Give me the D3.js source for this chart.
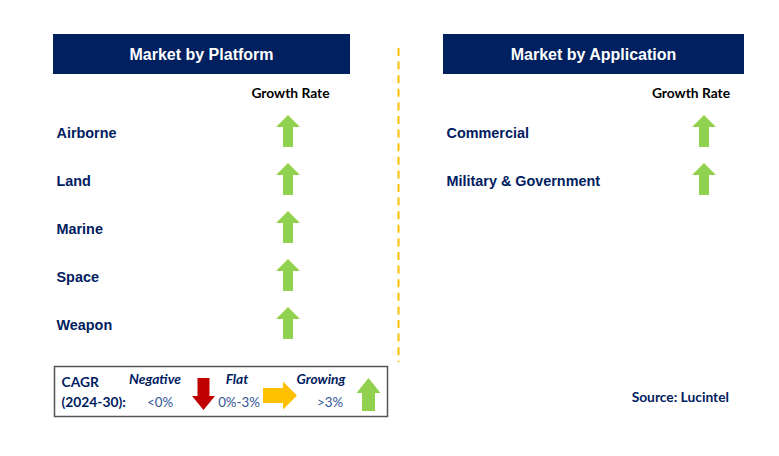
<!DOCTYPE html>
<html><head><meta charset="utf-8">
<script src="https://cdn.jsdelivr.net/npm/d3@7/dist/d3.min.js"></script>
<style>body{margin:0;background:#fff}svg{display:block}</style>
</head><body><svg id="c" width="779" height="456"></svg>
<script>
const platforms = ["Airborne", "Land", "Marine", "Space", "Weapon"];
const platformTrend = ["Growing", "Growing", "Growing", "Growing", "Growing"];
const applications = ["Commercial", "Military & Government"];
const applicationTrend = ["Growing", "Growing"];
const panelTitles = ["Market by Platform", "Market by Application"];
const legendNames = ["Negative", "Flat", "Growing"];
const legendRanges = ["<0%", "0%-3%", ">3%"];
const legendDir = ["down", "right", "up"];

const NAVY = "#002060", GREEN = "#92D050", RED = "#C00000", YEL = "#FFC000";
const colorOf = {Growing: GREEN, Flat: YEL, Negative: RED};
const dirOf = {Growing: "up", Flat: "right", Negative: "down"};
const svg = d3.select("#c");
const SANS = "'Liberation Sans', Arial, sans-serif";
const CAL = "Lato, 'Open Sans', sans-serif";
const CS = 13.8;

const rowY = d3.scaleLinear().domain([0, 1]).range([131, 179]);

function arrowPath(cx, cy, dir, len, w, sw, hh) {
  const pts = [[0, -len/2], [w/2, -len/2 + hh], [sw/2, -len/2 + hh], [sw/2, len/2],
               [-sw/2, len/2], [-sw/2, -len/2 + hh], [-w/2, -len/2 + hh]];
  const rot = {up: p => p, down: p => [-p[0], -p[1]], right: p => [-p[1], p[0]]}[dir];
  return "M" + pts.map(rot).map(p => [cx + p[0], cy + p[1]].join(",")).join("L") + "Z";
}

const panels = [
  {x0: 53, x1: 350, items: platforms, trend: platformTrend, arrowX: 288, gx: 290.5},
  {x0: 443, x1: 744, items: applications, trend: applicationTrend, arrowX: 704, gx: 691}
];
panels.forEach((p, k) => {
  const g = svg.append("g");
  g.append("rect").attr("x", p.x0).attr("y", 34).attr("width", p.x1 - p.x0).attr("height", 40).attr("fill", NAVY);
  g.append("text").attr("x", (p.x0 + p.x1) / 2).attr("y", 60).attr("text-anchor", "middle")
    .attr("fill", "#fff").attr("font-family", SANS).attr("font-weight", "bold").attr("font-size", 16)
    .text(panelTitles[k]);
  g.append("text").attr("x", p.gx).attr("y", 98).attr("text-anchor", "middle")
    .attr("fill", "#000").attr("font-family", CAL).attr("font-weight", "bold").attr("font-size", CS)
    .text("Growth Rate");
  p.items.forEach((name, i) => {
    g.append("text").attr("x", p.x0 + 3.5).attr("y", rowY(i) + 6.5)
      .attr("fill", NAVY).attr("font-family", SANS).attr("font-weight", "bold").attr("font-size", 14.4)
      .text(name);
    g.append("path").attr("d", arrowPath(p.arrowX, rowY(i), dirOf[p.trend[i]], 32, 24, 10, 12))
      .attr("fill", colorOf[p.trend[i]]);
  });
});

svg.append("line").attr("x1", 398.5).attr("x2", 398.5).attr("y1", 48).attr("y2", 362)
  .attr("stroke", YEL).attr("stroke-width", 2).attr("stroke-dasharray", "8,5.6");

const lg = svg.append("g");
lg.append("rect").attr("x", 54.5).attr("y", 366.5).attr("width", 333).attr("height", 50)
  .attr("fill", "#fff").attr("stroke", "#555").attr("stroke-width", 1.5);
lg.append("text").attr("x", 61.5).attr("y", 387).attr("fill", NAVY).attr("font-family", CAL)
  .attr("font-weight", "bold").attr("font-size", CS).text("CAGR");
lg.append("text").attr("x", 61.5).attr("y", 407).attr("fill", NAVY).attr("font-family", CAL)
  .attr("font-weight", "bold").attr("font-size", CS).text("(2024-30):");
const nameX = [155, 237, 321], rangeX = [160, 239, 330];
const arrowSpec = [
  {cx: 203.5, cy: 394, len: 32, w: 23, sw: 12, hh: 14, c: RED},
  {cx: 280, cy: 395.5, len: 34, w: 28, sw: 15, hh: 14, c: YEL},
  {cx: 368.5, cy: 394.5, len: 33, w: 24, sw: 13, hh: 15, c: GREEN}
];
legendNames.forEach((n, i) => {
  lg.append("text").attr("x", nameX[i]).attr("y", 384).attr("text-anchor", "middle")
    .attr("fill", NAVY).attr("font-family", CAL).attr("font-weight", "bold").attr("font-style", "italic")
    .attr("font-size", CS).text(n);
  lg.append("text").attr("x", rangeX[i]).attr("y", 407).attr("text-anchor", "middle")
    .attr("fill", "#2F5597").attr("font-family", CAL).attr("font-size", 13.3).text(legendRanges[i]);
  const a = arrowSpec[i];
  lg.append("path").attr("d", arrowPath(a.cx, a.cy, legendDir[i], a.len, a.w, a.sw, a.hh)).attr("fill", a.c);
});

svg.append("text").attr("x", 729).attr("y", 402).attr("text-anchor", "end")
  .attr("fill", NAVY).attr("font-family", CAL).attr("font-weight", "bold").attr("font-size", CS)
  .text("Source: Lucintel");
</script></body></html>
